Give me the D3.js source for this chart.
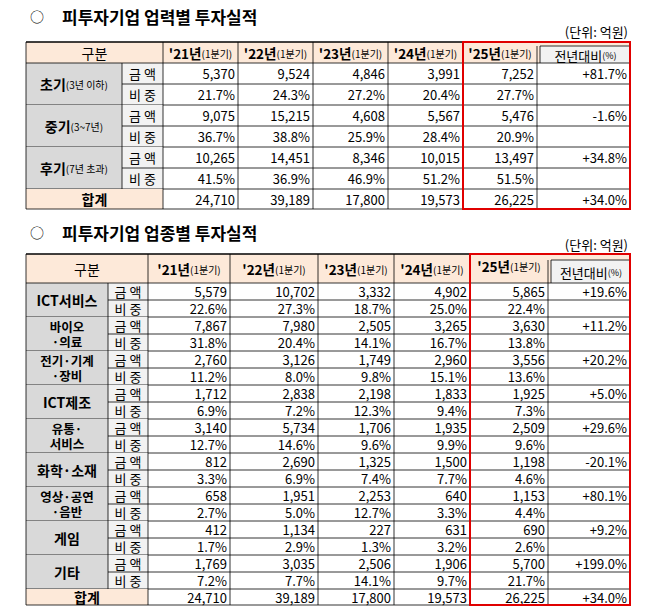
<!DOCTYPE html><html><head><meta charset="utf-8"><script src="https://cdn.jsdelivr.net/npm/d3@7"></script>
<style>body{margin:0;background:#fff}text{font-family:"Noto Sans CJK KR","Noto Sans",sans-serif}</style></head><body><svg id="c" width="665" height="606"></svg><script>
const years=["'21년","'22년","'23년","'24년","'25년"];
const stageCats=[["초기","(3년 이하)"],["중기","(3~7년)"],["후기","(7년 초과)"]];
const stageAmt=[["5,370","9,524","4,846","3,991","7,252"],["9,075","15,215","4,608","5,567","5,476"],["10,265","14,451","8,346","10,015","13,497"]];
const stageShare=[["21.7%","24.3%","27.2%","20.4%","27.7%"],["36.7%","38.8%","25.9%","28.4%","20.9%"],["41.5%","36.9%","46.9%","51.2%","51.5%"]];
const stageYoY=["+81.7%","-1.6%","+34.8%"];
const stageTotal=["24,710","39,189","17,800","19,573","26,225","+34.0%"];
const indCats=[["ICT서비스"],["바이오","·의료"],["전기·기계","·장비"],["ICT제조"],["유통·","서비스"],["화학·소재"],["영상·공연","·음반"],["게임"],["기타"]];
const indAmt=[["5,579","10,702","3,332","4,902","5,865"],["7,867","7,980","2,505","3,265","3,630"],["2,760","3,126","1,749","2,960","3,556"],["1,712","2,838","2,198","1,833","1,925"],["3,140","5,734","1,706","1,935","2,509"],["812","2,690","1,325","1,500","1,198"],["658","1,951","2,253","640","1,153"],["412","1,134","227","631","690"],["1,769","3,035","2,506","1,906","5,700"]];
const indShare=[["22.6%","27.3%","18.7%","25.0%","22.4%"],["31.8%","20.4%","14.1%","16.7%","13.8%"],["11.2%","8.0%","9.8%","15.1%","13.6%"],["6.9%","7.2%","12.3%","9.4%","7.3%"],["12.7%","14.6%","9.6%","9.9%","9.6%"],["3.3%","6.9%","7.4%","7.7%","4.6%"],["2.7%","5.0%","12.7%","3.3%","4.4%"],["1.7%","2.9%","1.3%","3.2%","2.6%"],["7.2%","7.7%","14.1%","9.7%","21.7%"]];
const indYoY=["+19.6%","+11.2%","+20.2%","+5.0%","+29.6%","-20.1%","+80.1%","+9.2%","+199.0%"];
const indTotal=["24,710","39,189","17,800","19,573","26,225","+34.0%"];

const svg=d3.select("#c");
function table(o){
  const g=svg.append("g");
  const xs=o.cols;
  const n=o.cats.length;
  const y=d3.scaleLinear().domain([0,n*2]).range([o.body0,o.body1]);
  const t=(x,yy,s,opt={})=>g.append("text").attr("x",x).attr("y",yy).attr("font-size",opt.fs||13).attr("font-weight",opt.fw||"normal").attr("text-anchor",opt.a||"middle").attr("dominant-baseline","central").attr("fill","#000").text(s);
  const rect=(x0,y0,x1,y1,f)=>g.append("rect").attr("x",x0).attr("y",y0).attr("width",x1-x0).attr("height",y1-y0).attr("fill",f);
  const line=(x0,y0,x1,y1,w=0.8,c="#000")=>g.append("line").attr("x1",x0).attr("y1",y0).attr("x2",x1).attr("y2",y1).attr("stroke",c).attr("stroke-width",w);
  t(37,o.titleY,"○",{fs:14});
  t(62,o.titleY,o.title,{fs:17,fw:"bold",a:"start"});
  t(xs[8]-2,o.unitY,"(단위: 억원)",{a:"end"});
  rect(xs[0],o.head0,xs[8],o.body0,"#fde9d9");
  rect(xs[7]+3,o.yoy0,xs[8]-1,o.body0,"#f2f2f2");
  line(xs[7]+3,o.yoy0,xs[8],o.yoy0);line(xs[7]+3,o.yoy0,xs[7]+3,o.body0);
  const hm=(o.yoy0+o.body0)/2;
  t((xs[0]+xs[2])/2,(o.head0+o.body0)/2,"구분",{fs:14});
  years.forEach((yr,i)=>{const cx=(xs[i+2]+xs[i+3])/2,cy=(o.head0+o.body0)/2+(i==4?o.y25off:0);
    const tx=g.append("text").attr("x",cx).attr("y",cy).attr("text-anchor","middle").attr("dominant-baseline","central");
    tx.append("tspan").attr("font-size",13.5).attr("font-weight","bold").text(yr);
    tx.append("tspan").attr("font-size",10).text("(1분기)");});
  const ty=g.append("text").attr("x",(xs[7]+xs[8])/2+2).attr("y",hm).attr("text-anchor","middle").attr("dominant-baseline","central");
  ty.append("tspan").attr("font-size",13).text("전년대비");ty.append("tspan").attr("font-size",9).text("(%)");
  o.cats.forEach((c,i)=>{
    const y0=y(2*i),y1=y(2*i+1),y2=y(2*i+2);
    rect(xs[0],y0,xs[1],y2,"#d9d9d9");rect(xs[1],y0,xs[2],y2,"#f2f2f2");
    if(o.stage){const tx=g.append("text").attr("x",(xs[0]+xs[1])/2).attr("y",(y0+y2)/2).attr("text-anchor","middle").attr("dominant-baseline","central");
      tx.append("tspan").attr("font-size",14).attr("font-weight","bold").text(c[0]);tx.append("tspan").attr("font-size",10).text(c[1]);}
    else if(c.length==1) t((xs[0]+xs[1])/2,(y0+y2)/2,c[0],{fs:14,fw:"bold"});
    else {t((xs[0]+xs[1])/2,(y0+y2)/2-7.5,c[0],{fs:12.5,fw:"bold"});t((xs[0]+xs[1])/2,(y0+y2)/2+7.5,c[1],{fs:12.5,fw:"bold"});}
    t((xs[1]+xs[2])/2,(y0+y1)/2,"금 액",{fs:13});t((xs[1]+xs[2])/2,(y1+y2)/2,"비 중",{fs:13});
    o.amt[i].forEach((v,j)=>t(xs[j+3]-3,(y0+y1)/2,v,{a:"end"}));
    o.share[i].forEach((v,j)=>t(xs[j+3]-3,(y1+y2)/2,v,{a:"end"}));
    t(xs[8]-3,(y0+y1)/2,o.yoy[i],{a:"end"});
    line(xs[1],y1,xs[8],y1);line(xs[0],y2,xs[8],y2);
  });
  rect(xs[0],o.body1,xs[2],o.tot1,"#fde9d9");
  t((xs[0]+xs[2])/2,(o.body1+o.tot1)/2,"합계",{fs:14,fw:"bold"});
  o.total.forEach((v,j)=>t(xs[j+3]-3,(o.body1+o.tot1)/2,v,{a:"end"}));
  line(xs[0],o.head0,xs[8],o.head0,1.5);line(xs[0],o.body0,xs[8],o.body0);line(xs[0],o.tot1,xs[8],o.tot1);
  xs.forEach((x,k)=>{ if(k==1) line(x,o.body0,x,o.body1); else if(k!=7) line(x,o.head0,x,o.tot1); else line(x,o.yoy0,x,o.tot1);});
  g.append("rect").attr("x",xs[6]).attr("y",o.head0).attr("width",xs[8]-xs[6]).attr("height",o.tot1-o.head0).attr("fill","none").attr("stroke","#e00000").attr("stroke-width",2);
}
table({title:"피투자기업 업력별 투자실적",titleY:16,unitY:31,cols:[26,122,163,238,313,388,463,537,630],head0:42,yoy0:46,body0:63,body1:189,tot1:209,y25off:0,cats:stageCats,stage:true,amt:stageAmt,share:stageShare,yoy:stageYoY,total:stageTotal});
table({title:"피투자기업 업종별 투자실적",titleY:232,unitY:244,cols:[26,108,148,230,318,394,470,548,630],head0:254,yoy0:260,body0:283,body1:589,tot1:605,y25off:-3,cats:indCats,stage:false,amt:indAmt,share:indShare,yoy:indYoY,total:indTotal});
</script></body></html>
